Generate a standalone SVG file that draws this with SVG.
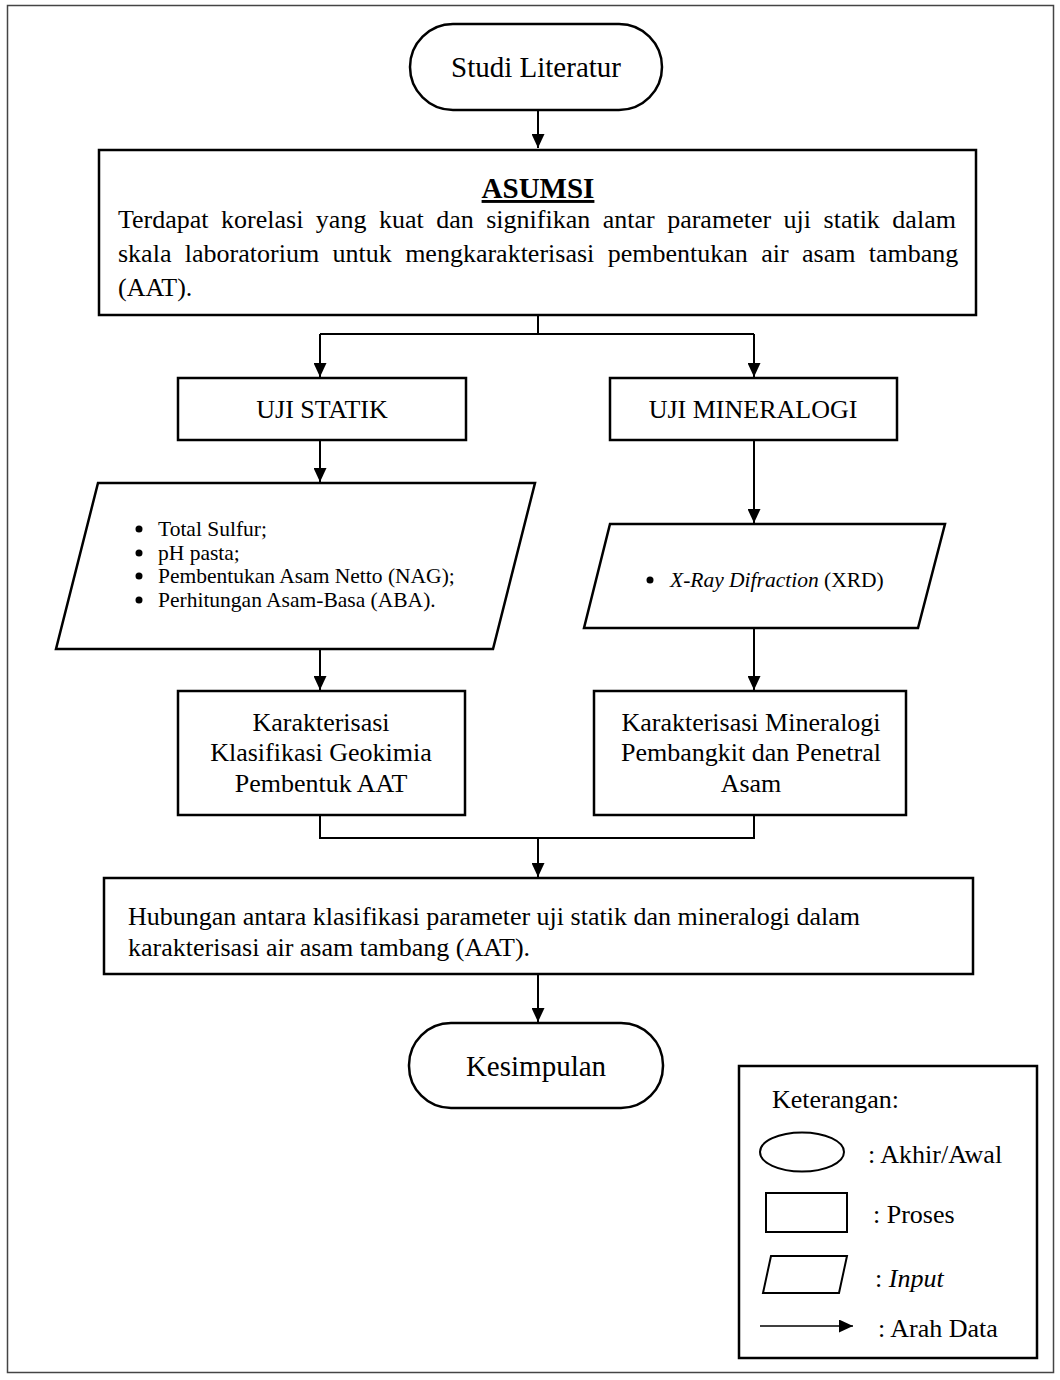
<svg xmlns="http://www.w3.org/2000/svg" width="1060" height="1380" viewBox="0 0 1060 1380">
<defs>
<marker id="ah" markerUnits="userSpaceOnUse" markerWidth="14" markerHeight="13" refX="14" refY="6.5" orient="auto">
<path d="M0,0 L14,6.5 L0,13 z" fill="#000"/>
</marker>
<style>
text{font-family:"Liberation Serif","Times New Roman",serif;fill:#000}
.box{fill:#fff;stroke:#000;stroke-width:2.5}
.ln{fill:none;stroke:#000;stroke-width:2}
.t26{font-size:26px}
.t29{font-size:29px}
.t21{font-size:21.5px}
.c{text-anchor:middle}
.dot{fill:#000}
</style>
</defs>
<rect width="1060" height="1380" fill="#fff"/>
<rect x="7.5" y="5.5" width="1046" height="1367" fill="none" stroke="#444" stroke-width="1.5"/>

<g id="connectors">
<path class="ln" d="M538,110 V148" marker-end="url(#ah)"/>
<path class="ln" d="M538,315 V334 M320,334 H754"/>
<path class="ln" d="M320,334 V377" marker-end="url(#ah)"/>
<path class="ln" d="M754,334 V377" marker-end="url(#ah)"/>
<path class="ln" d="M320,440 V482" marker-end="url(#ah)"/>
<path class="ln" d="M754,440 V523" marker-end="url(#ah)"/>
<path class="ln" d="M320,649 V690" marker-end="url(#ah)"/>
<path class="ln" d="M754,628 V690" marker-end="url(#ah)"/>
<path class="ln" d="M320,815 V838 H754 V815"/>
<path class="ln" d="M538,838 V877" marker-end="url(#ah)"/>
<path class="ln" d="M538,974 V1022" marker-end="url(#ah)"/>
</g>

<g id="studi-literatur">
<rect class="box" x="410" y="24" width="252" height="86" rx="43" ry="43"/>
<text class="t29 c" x="536" y="77">Studi Literatur</text>
</g>

<g id="asumsi">
<rect class="box" x="99" y="150" width="877" height="165"/>
<text x="538" y="198" font-size="29" font-weight="bold" text-anchor="middle" text-decoration="underline">ASUMSI</text>
<text class="t26" x="118" y="228" word-spacing="6">Terdapat korelasi yang kuat dan signifikan antar parameter uji statik dalam</text>
<text class="t26" x="118" y="262" word-spacing="6.9">skala laboratorium untuk mengkarakterisasi pembentukan air asam tambang</text>
<text class="t26" x="118" y="296">(AAT).</text>
</g>

<g id="uji-statik">
<rect class="box" x="178" y="378" width="288" height="62"/>
<text class="t26 c" x="322" y="418">UJI STATIK</text>
</g>

<g id="uji-mineralogi">
<rect class="box" x="610" y="378" width="287" height="62"/>
<text class="t26 c" x="753" y="418">UJI MINERALOGI</text>
</g>

<g id="input-statik">
<polygon class="box" points="98,483 535,483 493,649 56,649"/>
<circle class="dot" cx="139" cy="529" r="3.5"/>
<text class="t21" x="158" y="536">Total Sulfur;</text>
<circle class="dot" cx="139" cy="553" r="3.5"/>
<text class="t21" x="158" y="560">pH pasta;</text>
<circle class="dot" cx="139" cy="576" r="3.5"/>
<text class="t21" x="158" y="583">Pembentukan Asam Netto (NAG);</text>
<circle class="dot" cx="139" cy="600" r="3.5"/>
<text class="t21" x="158" y="607">Perhitungan Asam-Basa (ABA).</text>
</g>

<g id="input-mineralogi">
<polygon class="box" points="610,524 945,524 918,628 584,628"/>
<circle class="dot" cx="650" cy="580" r="3.5"/>
<text class="t21" x="670" y="587"><tspan font-style="italic">X-Ray Difraction</tspan> (XRD)</text>
</g>

<g id="karakterisasi-geokimia">
<rect class="box" x="178" y="691" width="287" height="124"/>
<text class="t26 c" x="321" y="731">Karakterisasi</text>
<text class="t26 c" x="321" y="761">Klasifikasi Geokimia</text>
<text class="t26 c" x="321" y="792">Pembentuk AAT</text>
</g>

<g id="karakterisasi-mineralogi">
<rect class="box" x="594" y="691" width="312" height="124"/>
<text class="t26 c" x="751" y="731">Karakterisasi Mineralogi</text>
<text class="t26 c" x="751" y="761">Pembangkit dan Penetral</text>
<text class="t26 c" x="751" y="792">Asam</text>
</g>

<g id="hubungan">
<rect class="box" x="104" y="878" width="869" height="96"/>
<text class="t26" x="128" y="925">Hubungan antara klasifikasi parameter uji statik dan mineralogi dalam</text>
<text class="t26" x="128" y="956">karakterisasi air asam tambang (AAT).</text>
</g>

<g id="kesimpulan">
<rect class="box" x="409" y="1023" width="254" height="85" rx="42" ry="42"/>
<text class="t29 c" x="536" y="1076">Kesimpulan</text>
</g>

<g id="legend">
<rect class="box" x="739" y="1066" width="298" height="292"/>
<text class="t26" x="772" y="1108">Keterangan:</text>
<ellipse cx="802" cy="1152" rx="42" ry="19.5" fill="#fff" stroke="#000" stroke-width="2"/>
<text class="t26" x="868" y="1163">: Akhir/Awal</text>
<rect x="766" y="1193" width="81" height="39" fill="#fff" stroke="#000" stroke-width="2"/>
<text class="t26" x="873" y="1223">: Proses</text>
<polygon points="771,1256 847,1256 839,1293 763,1293" fill="#fff" stroke="#000" stroke-width="2"/>
<text class="t26" x="875" y="1287">: <tspan font-style="italic">Input</tspan></text>
<path d="M760,1326 H853" stroke="#000" stroke-width="1.5" marker-end="url(#ah)"/>
<text class="t26" x="878" y="1337">: Arah Data</text>
</g>
</svg>
